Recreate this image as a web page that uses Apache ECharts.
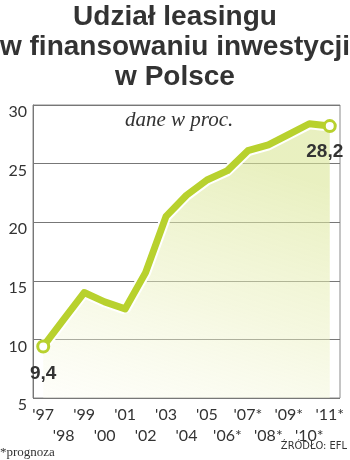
<!DOCTYPE html>
<html>
<head>
<meta charset="utf-8">
<script src="https://cdn.jsdelivr.net/npm/echarts@6/dist/echarts.min.js"></script>
<style>
html,body{margin:0;padding:0;background:#fff;}
#c{width:350px;height:460px;}
</style>
</head>
<body>
<div id="c"></div>
<script>
var years = ["'97","'98","'99","'00","'01","'02","'03","'04","'05","'06*","'07*","'08*","'09*","'10*","'11*"];
var share = [9.4, 11.7, 14.0, 13.2, 12.6, 15.7, 20.5, 22.3, 23.6, 24.4, 26.1, 26.6, 27.5, 28.4, 28.2];
var yTicks = [5, 10, 15, 20, 25, 30];
var titleLines = ["Udział leasingu", "w finansowaniu inwestycji", "w Polsce"];
var unitNote = "dane w proc.";
var footNote = "*prognoza";
var sourceNote = "ŹRÓDŁO: EFL";

var green = '#b8d12e';
var chart = echarts.init(document.getElementById('c'));

var lineData = share.map(function (v, i) {
  var item = { value: v };
  if (i === 0 || i === share.length - 1) {
    item.symbol = 'circle';
    item.symbolSize = 11;
    item.itemStyle = { color: '#fff', borderColor: green, borderWidth: 3 };
    item.label = {
      show: true,
      formatter: function (p) { return String(p.value).replace('.', ','); },
      fontFamily: 'Liberation Sans, Arial, sans-serif',
      fontWeight: 'bold',
      fontSize: 19,
      color: '#333',
      position: 'bottom',
      distance: i === 0 ? 11 : 9,
      offset: i === 0 ? [0, 0] : [-5, 0]
    };
  }
  return item;
});

var titleGraphics = titleLines.map(function (t, i) {
  return {
    type: 'text', x: 175, y: 17 + i * 30,
    style: { text: t, font: 'bold 28px "Liberation Sans", Arial, sans-serif', fill: '#333', align: 'center', verticalAlign: 'middle' }
  };
});

chart.setOption({
  animation: false,
  grid: { left: 33, right: 10, top: 105, bottom: 62, show: true, borderColor: '#8a8a8a', borderWidth: 1, backgroundColor: 'transparent' },
  xAxis: {
    type: 'category',
    data: years,
    boundaryGap: true,
    axisLine: { show: false },
    axisTick: { show: false },
    axisLabel: {
      interval: 0,
      fontFamily: 'Lato, sans-serif',
      fontSize: 16,
      color: '#333',
      margin: 6,
      lineHeight: 21,
      formatter: function (v, i) { return i % 2 ? '\n' + v : v; }
    }
  },
  yAxis: {
    type: 'value',
    min: yTicks[0],
    max: yTicks[yTicks.length - 1],
    interval: 5,
    axisLine: { show: true, lineStyle: { color: '#777' } },
    axisTick: { show: false },
    splitLine: { show: true, lineStyle: { color: '#777', width: 1 } },
    axisLabel: {
      fontFamily: 'Lato, sans-serif',
      fontSize: 16,
      color: '#333',
      margin: 6,
      verticalAlign: 'top',
      lineHeight: 14
    }
  },
  series: [
    {
      type: 'line',
      data: share,
      symbol: 'none',
      lineStyle: { color: '#fff', width: 11 },
      areaStyle: {
        origin: 'start',
        color: new echarts.graphic.LinearGradient(0.3, 0, 0, 1, [
          { offset: 0, color: 'rgba(218,230,150,0.85)' },
          { offset: 0.5, color: 'rgba(234,240,190,0.7)' },
          { offset: 1, color: 'rgba(252,252,240,0.5)' }
        ])
      },
      z: 1
    },
    {
      type: 'line',
      data: lineData,
      symbol: 'none',
      lineStyle: { color: green, width: 7, join: 'round' },
      z: 3
    }
  ],
  graphic: titleGraphics.concat([
    { type: 'text', left: 125, top: 110, style: { text: unitNote, font: 'italic 21px "Liberation Serif", "DejaVu Serif", serif', fill: '#333' } },
    { type: 'text', left: 0, top: 446, style: { text: footNote, font: '13px "Liberation Serif", serif', fill: '#333' } },
    { type: 'text', right: 3, top: 441, style: { text: sourceNote, font: '11px "Liberation Sans Narrow", "DejaVu Sans Condensed", sans-serif', fill: '#333' } }
  ])
});
</script>
</body>
</html>
